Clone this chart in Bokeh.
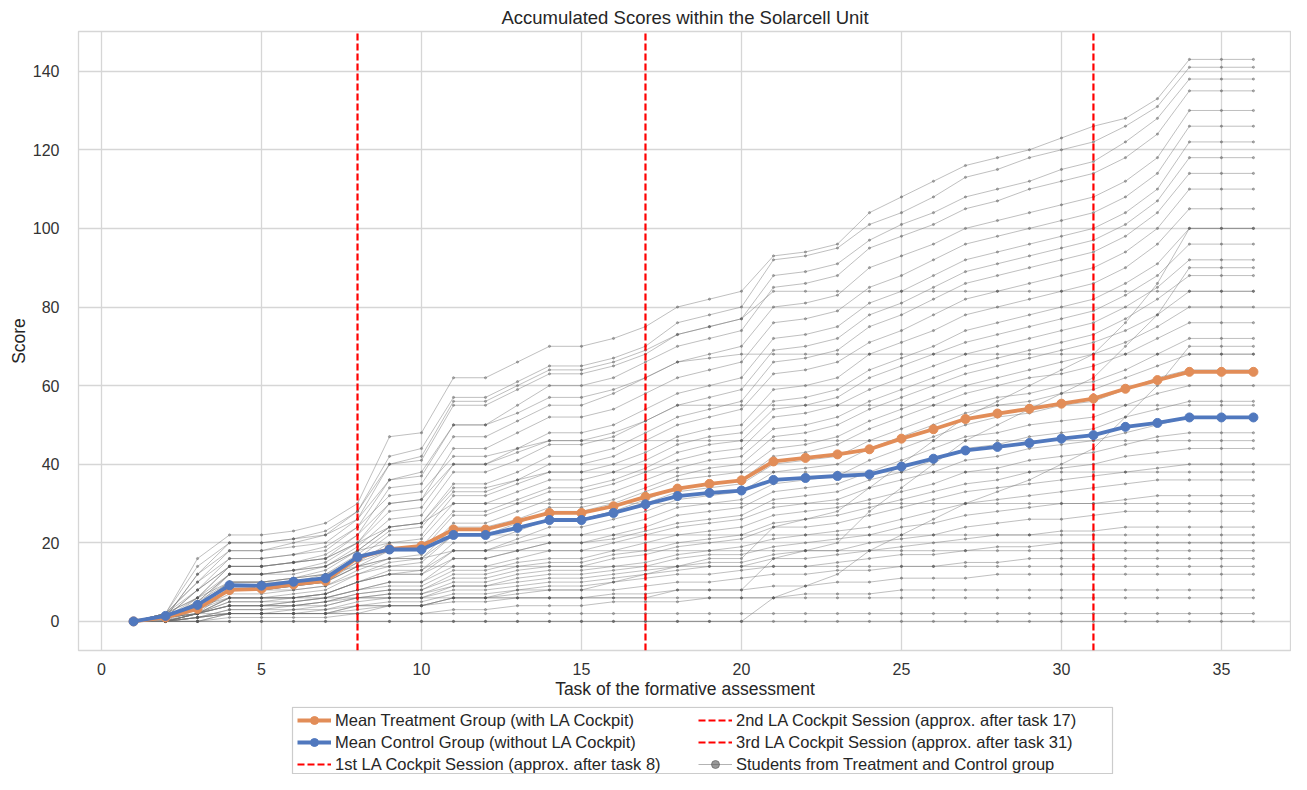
from bokeh.plotting import figure
from bokeh.models import Legend, LegendItem, FixedTicker, Range1d
from bokeh.layouts import column
from bokeh.embed import file_html
from bokeh.resources import INLINE

TASKS = list(range(1, 37))
X_TICKS = [0, 5, 10, 15, 20, 25, 30, 35]
Y_TICKS = [0, 20, 40, 60, 80, 100, 120, 140]
SESSIONS = [8, 17, 31]
SESSION_LABELS = ["1st LA Cockpit Session (approx. after task 8)",
                  "2nd LA Cockpit Session (approx. after task 17)",
                  "3rd LA Cockpit Session (approx. after task 31)"]
LABEL_TREATMENT = "Mean Treatment Group (with LA Cockpit)"
LABEL_CONTROL = "Mean Control Group (without LA Cockpit)"
LABEL_STUDENTS = "Students from Treatment and Control group"

MEAN_TREATMENT = [0, 1.0, 3.2, 8.0, 8.3, 9.4, 10.3, 16.2, 18.4, 19.2, 23.4, 23.4,
                  25.5, 27.6, 27.6, 29.3, 31.7, 33.8, 35.0, 35.9, 40.7, 41.6, 42.5, 43.8,
                  46.5, 48.9, 51.5, 52.9, 54.1, 55.4, 56.7, 59.2, 61.4, 63.5, 63.5, 63.5]
MEAN_CONTROL = [0, 1.4, 4.2, 9.2, 9.1, 10.1, 11.0, 16.4, 18.3, 18.3, 22.0, 22.0,
                23.8, 25.8, 25.8, 27.6, 29.8, 31.9, 32.7, 33.3, 36.0, 36.5, 37.0, 37.4,
                39.4, 41.4, 43.5, 44.4, 45.4, 46.5, 47.4, 49.5, 50.5, 51.9, 51.9, 51.9]

STUDENT_SCORES = [
    [0, 2, 16, 22, 22, 23, 25, 30, 47, 48, 62, 62, 66, 70, 70, 72, 75, 80, 82, 84, 93, 94, 96, 104, 108, 112, 116, 118, 120, 123, 126, 128, 133, 143, 143, 143],
    [0, 1, 12, 20, 20, 21, 23, 28, 42, 44, 57, 57, 61, 65, 65, 67, 70, 76, 78, 80, 92, 93, 95, 101, 104, 108, 113, 115, 118, 120, 122, 126, 131, 141, 141, 141],
    [0, 2, 10, 18, 18, 20, 22, 26, 40, 41, 55, 55, 59, 63, 63, 65, 68, 73, 75, 77, 88, 89, 91, 97, 101, 104, 108, 110, 112, 115, 117, 122, 128, 138, 138, 138],
    [0, 1, 8, 16, 16, 17, 19, 24, 36, 37, 50, 50, 55, 60, 60, 62, 66, 70, 72, 74, 85, 86, 88, 95, 98, 101, 105, 107, 110, 112, 114, 118, 124, 135, 135, 135],
    [0, 0, 6, 14, 14, 15, 17, 22, 34, 35, 47, 47, 51, 55, 55, 58, 62, 66, 68, 70, 80, 81, 83, 90, 93, 96, 100, 102, 104, 106, 108, 112, 118, 130, 130, 130],
    [0, 2, 6, 14, 14, 15, 16, 20, 30, 31, 44, 44, 48, 52, 52, 54, 58, 62, 64, 66, 76, 77, 79, 85, 88, 92, 96, 98, 100, 102, 104, 108, 114, 126, 126, 126],
    [0, 1, 5, 12, 12, 13, 15, 20, 28, 29, 40, 40, 44, 48, 48, 50, 54, 58, 60, 62, 72, 73, 75, 81, 84, 88, 92, 94, 96, 98, 100, 104, 110, 122, 122, 122],
    [0, 1, 4, 12, 12, 12, 14, 19, 26, 27, 38, 38, 41, 45, 45, 47, 51, 55, 57, 59, 69, 70, 72, 78, 81, 85, 89, 91, 93, 95, 97, 101, 107, 118, 118, 118],
    [0, 0, 4, 10, 10, 11, 13, 18, 24, 25, 35, 35, 38, 42, 42, 44, 48, 52, 54, 56, 66, 67, 69, 75, 78, 82, 86, 88, 90, 92, 94, 98, 104, 114, 114, 114],
    [0, 1, 5, 10, 10, 11, 12, 17, 23, 24, 33, 33, 36, 40, 40, 42, 46, 50, 52, 54, 63, 64, 66, 71, 74, 78, 82, 84, 86, 88, 90, 94, 100, 110, 110, 110],
    [0, 1, 4, 10, 10, 10, 12, 16, 22, 22, 32, 32, 35, 38, 38, 40, 43, 47, 49, 50, 59, 60, 62, 68, 71, 74, 78, 80, 82, 84, 86, 90, 96, 105, 105, 105],
    [0, 0, 3, 8, 8, 9, 10, 15, 20, 21, 30, 30, 33, 36, 36, 38, 41, 45, 47, 48, 56, 57, 59, 64, 67, 70, 74, 76, 78, 80, 82, 86, 91, 100, 100, 100],
    [0, 1, 3, 8, 8, 9, 10, 14, 18, 19, 28, 28, 31, 34, 34, 36, 39, 43, 45, 46, 54, 55, 57, 62, 65, 68, 71, 73, 75, 77, 79, 83, 88, 96, 96, 96],
    [0, 1, 4, 9, 9, 10, 11, 15, 18, 18, 27, 27, 30, 33, 33, 35, 38, 41, 43, 44, 52, 53, 55, 59, 62, 65, 68, 70, 72, 74, 76, 80, 85, 92, 92, 92],
    [0, 0, 2, 8, 8, 8, 9, 13, 16, 17, 25, 25, 28, 31, 31, 33, 36, 39, 41, 42, 49, 50, 52, 56, 59, 62, 65, 67, 69, 71, 73, 77, 82, 88, 88, 88],
    [0, 1, 3, 7, 7, 8, 9, 12, 15, 16, 24, 24, 26, 29, 29, 31, 34, 37, 39, 40, 47, 48, 50, 54, 57, 60, 63, 65, 67, 69, 71, 74, 78, 84, 84, 84],
    [0, 1, 2, 6, 6, 7, 8, 12, 14, 15, 22, 22, 25, 28, 28, 30, 33, 36, 37, 38, 44, 45, 47, 51, 54, 57, 60, 62, 64, 66, 68, 71, 75, 80, 80, 80],
    [0, 0, 2, 6, 6, 6, 7, 10, 13, 13, 20, 20, 23, 26, 26, 28, 31, 34, 35, 36, 42, 43, 45, 49, 52, 55, 58, 60, 62, 63, 65, 68, 72, 76, 76, 76],
    [0, 1, 3, 8, 8, 9, 10, 14, 16, 16, 22, 22, 24, 26, 26, 28, 30, 33, 34, 35, 40, 41, 42, 46, 49, 52, 55, 57, 58, 60, 61, 64, 68, 72, 72, 72],
    [0, 0, 2, 6, 6, 6, 7, 10, 12, 12, 18, 18, 21, 24, 24, 26, 28, 31, 32, 33, 38, 39, 40, 44, 47, 50, 53, 55, 56, 58, 59, 62, 65, 68, 68, 68],
    [0, 1, 2, 5, 5, 6, 7, 10, 12, 13, 18, 18, 20, 22, 22, 24, 26, 29, 30, 31, 35, 36, 37, 41, 44, 47, 50, 52, 53, 55, 56, 59, 62, 64, 64, 64],
    [0, 0, 2, 4, 4, 5, 6, 8, 10, 10, 16, 16, 18, 20, 20, 22, 24, 27, 28, 29, 33, 34, 35, 38, 41, 44, 47, 48, 50, 51, 52, 55, 58, 60, 60, 60],
    [0, 1, 3, 6, 6, 6, 7, 10, 12, 12, 16, 16, 18, 20, 20, 21, 23, 25, 26, 27, 31, 32, 33, 36, 38, 41, 44, 45, 47, 48, 49, 52, 54, 56, 56, 56],
    [0, 0, 2, 4, 4, 5, 6, 8, 10, 10, 14, 14, 16, 18, 18, 20, 22, 24, 25, 26, 29, 30, 31, 34, 36, 38, 41, 42, 44, 45, 46, 48, 50, 52, 52, 52],
    [0, 1, 2, 5, 5, 5, 6, 8, 9, 9, 13, 13, 15, 16, 16, 18, 20, 22, 23, 24, 27, 28, 29, 31, 33, 35, 38, 39, 41, 42, 43, 45, 47, 48, 48, 48],
    [0, 0, 2, 4, 4, 4, 5, 7, 8, 8, 12, 12, 14, 15, 15, 17, 18, 20, 21, 22, 25, 26, 27, 29, 31, 33, 35, 36, 38, 39, 40, 42, 43, 44, 44, 44],
    [0, 0, 1, 3, 3, 4, 5, 7, 8, 8, 11, 11, 13, 14, 14, 16, 17, 19, 20, 21, 24, 24, 25, 27, 29, 31, 33, 34, 35, 36, 37, 38, 39, 40, 40, 40],
    [0, 1, 2, 4, 4, 4, 5, 6, 7, 7, 10, 10, 12, 13, 13, 14, 15, 17, 18, 19, 21, 22, 23, 24, 26, 28, 30, 31, 32, 33, 34, 35, 36, 36, 36, 36],
    [0, 0, 1, 3, 3, 3, 4, 6, 7, 7, 9, 9, 11, 12, 12, 13, 14, 16, 17, 17, 19, 20, 21, 22, 24, 25, 27, 28, 29, 30, 30, 31, 32, 32, 32, 32],
    [0, 0, 2, 4, 4, 4, 4, 6, 6, 6, 9, 9, 10, 11, 11, 12, 13, 14, 15, 15, 17, 18, 18, 20, 21, 22, 24, 25, 26, 26, 27, 28, 28, 28, 28, 28],
    [0, 0, 1, 2, 2, 3, 3, 5, 6, 6, 8, 8, 9, 10, 10, 11, 12, 13, 14, 14, 16, 16, 17, 18, 19, 20, 21, 22, 22, 23, 23, 24, 24, 24, 24, 24],
    [0, 0, 1, 2, 2, 2, 3, 4, 5, 5, 7, 7, 8, 9, 9, 10, 11, 12, 12, 13, 14, 14, 15, 16, 17, 17, 18, 19, 19, 20, 20, 20, 20, 20, 20, 20],
    [0, 0, 0, 2, 2, 2, 2, 4, 4, 4, 6, 6, 7, 8, 8, 8, 9, 10, 10, 11, 12, 12, 13, 13, 14, 14, 15, 15, 16, 16, 16, 16, 16, 16, 16, 16],
    [0, 0, 1, 2, 2, 2, 2, 3, 4, 4, 5, 5, 6, 6, 6, 7, 7, 8, 8, 8, 9, 9, 10, 10, 11, 11, 11, 12, 12, 12, 12, 12, 12, 12, 12, 12],
    [0, 0, 0, 1, 1, 1, 1, 2, 2, 2, 3, 3, 4, 4, 4, 5, 5, 5, 6, 6, 6, 7, 7, 7, 8, 8, 8, 8, 8, 8, 8, 8, 8, 8, 8, 8],
    [0, 0, 0, 0, 0, 0, 0, 0, 0, 0, 0, 0, 0, 0, 0, 0, 0, 0, 0, 0, 0, 0, 0, 0, 0, 0, 0, 0, 0, 0, 0, 0, 0, 0, 0, 0],
    [0, 1, 4, 6, 6, 6, 6, 6, 6, 6, 6, 6, 6, 6, 6, 6, 6, 6, 6, 6, 6, 6, 6, 6, 6, 6, 6, 6, 6, 6, 6, 6, 6, 6, 6, 6],
    [0, 2, 6, 10, 10, 11, 12, 14, 14, 14, 14, 14, 14, 14, 14, 14, 14, 14, 14, 14, 14, 14, 14, 14, 14, 14, 14, 14, 14, 14, 14, 14, 14, 14, 14, 14],
    [0, 1, 5, 12, 12, 13, 14, 18, 20, 20, 22, 22, 22, 22, 22, 22, 22, 22, 22, 22, 22, 22, 22, 22, 22, 22, 22, 22, 22, 22, 22, 22, 22, 22, 22, 22],
    [0, 2, 8, 14, 14, 15, 16, 20, 24, 25, 30, 30, 30, 30, 30, 30, 30, 30, 30, 30, 30, 30, 30, 30, 30, 30, 30, 30, 30, 30, 30, 30, 30, 30, 30, 30],
    [0, 1, 6, 12, 12, 13, 14, 18, 24, 25, 34, 34, 36, 38, 38, 38, 38, 38, 38, 38, 38, 38, 38, 38, 38, 38, 38, 38, 38, 38, 38, 38, 38, 38, 38, 38],
    [0, 2, 10, 16, 16, 17, 18, 24, 32, 33, 42, 42, 44, 46, 46, 46, 46, 46, 46, 46, 46, 46, 46, 46, 46, 46, 46, 46, 46, 46, 46, 46, 46, 46, 46, 46],
    [0, 1, 8, 14, 14, 15, 16, 22, 30, 31, 40, 40, 43, 46, 46, 48, 51, 55, 55, 55, 55, 55, 55, 55, 55, 55, 55, 55, 55, 55, 55, 55, 55, 55, 55, 55],
    [0, 1, 12, 18, 18, 19, 20, 26, 36, 38, 50, 50, 53, 57, 57, 59, 62, 66, 67, 68, 68, 68, 68, 68, 68, 68, 68, 68, 68, 68, 68, 68, 68, 68, 68, 68],
    [0, 2, 14, 20, 20, 21, 22, 28, 40, 42, 56, 56, 60, 64, 64, 66, 69, 73, 75, 77, 84, 84, 84, 84, 84, 84, 84, 84, 84, 84, 84, 84, 84, 84, 84, 84],
    [0, 0, 0, 0, 0, 0, 0, 0, 0, 0, 0, 0, 0, 0, 0, 0, 0, 0, 0, 0, 6, 9, 12, 18, 22, 26, 30, 33, 36, 40, 44, 52, 60, 70, 70, 70],
    [0, 0, 1, 2, 2, 2, 2, 4, 4, 4, 6, 6, 6, 6, 6, 6, 6, 8, 8, 8, 16, 18, 20, 28, 34, 40, 46, 50, 54, 58, 62, 70, 78, 90, 90, 90],
    [0, 0, 0, 2, 2, 2, 2, 2, 4, 4, 6, 6, 8, 8, 8, 10, 12, 14, 16, 16, 24, 26, 28, 34, 40, 46, 52, 56, 60, 64, 68, 76, 86, 100, 100, 100],
    [0, 0, 2, 2, 2, 2, 2, 2, 2, 2, 2, 2, 2, 2, 2, 2, 2, 2, 2, 2, 2, 2, 2, 2, 2, 2, 2, 2, 2, 2, 2, 2, 2, 2, 2, 2],
    [0, 1, 4, 8, 8, 9, 10, 14, 16, 16, 18, 18, 18, 18, 18, 18, 18, 18, 18, 18, 18, 18, 18, 18, 18, 18, 18, 18, 18, 18, 18, 18, 18, 18, 18, 18],
]

X_START, X_END = -0.72, 37.19
Y_START, Y_END = -7.4, 150.1

FONT = "Liberation Sans"
T_COLOR = "#E28D58"
C_COLOR = "#5078BE"
RED = "#ff0000"
FIG_W = 1291
MAIN_H = 706
LEG_H = 68
FRAME_LEFT = 78
NAN = float("nan")

p = figure(width=FIG_W, height=MAIN_H,
           x_range=Range1d(X_START, X_END), y_range=Range1d(Y_START, Y_END),
           output_backend="svg", toolbar_location=None,
           min_border_left=FRAME_LEFT, min_border_right=0, min_border_top=0, min_border_bottom=56,
           background_fill_color="white", border_fill_color="white")

p.title.text = "Accumulated Scores within the Solarcell Unit"
p.title.align = "center"
p.title.text_font = FONT
p.title.text_font_size = "18.5px"
p.title.text_font_style = "normal"
p.title.text_color = "#262626"
p.title.standoff = 8

p.xaxis.ticker = FixedTicker(ticks=X_TICKS)
p.yaxis.ticker = FixedTicker(ticks=Y_TICKS)
for ax in (p.xaxis[0], p.yaxis[0]):
    ax.axis_line_color = None
    ax.major_tick_line_color = None
    ax.minor_tick_line_color = None
    ax.major_label_text_font = FONT
    ax.major_label_text_font_size = "16px"
    ax.major_label_text_color = "#333333"
    ax.axis_label_text_font = FONT
    ax.axis_label_text_font_size = "17.5px"
    ax.axis_label_text_font_style = "normal"
    ax.axis_label_text_color = "#262626"
p.xaxis.axis_label = "Task of the formative assessment"
p.yaxis.axis_label = "Score"
p.xaxis.major_label_standoff = 6
p.yaxis.major_label_standoff = 13
p.xaxis.axis_label_standoff = 1
p.yaxis.axis_label_standoff = 1

p.grid.grid_line_color = "#d6d6d6"
p.grid.grid_line_width = 1.3
p.outline_line_color = "#d6d6d6"
p.outline_line_width = 1.3

# students
p.multi_line(xs=[TASKS] * len(STUDENT_SCORES), ys=STUDENT_SCORES,
             line_color="#707070", line_alpha=0.45, line_width=1)
flat_x = [t for s in STUDENT_SCORES for t in TASKS]
flat_y = [v for s in STUDENT_SCORES for v in s]
p.scatter(flat_x, flat_y, size=2.2, color="#555555", alpha=0.4)

# session lines
for s in SESSIONS:
    p.line([s, s], [Y_START, Y_END], line_color=RED, line_width=2.2, line_dash="7 3")

# means
p.line(TASKS, MEAN_TREATMENT, line_color=T_COLOR, line_width=3.8)
p.scatter(TASKS, MEAN_TREATMENT, size=9, color=T_COLOR)
p.line(TASKS, MEAN_CONTROL, line_color=C_COLOR, line_width=3.8)
p.scatter(TASKS, MEAN_CONTROL, size=9, color=C_COLOR)

# ---- legend strip (separate figure beneath the plot; its frame is aligned with the plot frame) ----
q = figure(width=FIG_W, height=LEG_H, x_range=Range1d(FRAME_LEFT, FIG_W), y_range=Range1d(0, LEG_H),
           output_backend="svg", toolbar_location=None, x_axis_type=None, y_axis_type=None,
           min_border_left=FRAME_LEFT, min_border_right=0, min_border_top=0,
           min_border_bottom=0, outline_line_color=None,
           background_fill_color="white", border_fill_color="white")
q.grid.visible = False

# legend box
q.quad(left=[292], right=[1112], bottom=[0.8], top=[LEG_H - 0.8],
       fill_color="white", line_color="#cccccc", line_width=1.2)

lt_line = q.line(x=[NAN], y=[NAN], line_color=T_COLOR, line_width=3.8)
lt_pts = q.scatter(x=[NAN], y=[NAN], size=9, color=T_COLOR)
lc_line = q.line(x=[NAN], y=[NAN], line_color=C_COLOR, line_width=3.8)
lc_pts = q.scatter(x=[NAN], y=[NAN], size=9, color=C_COLOR)
ls = [q.line(x=[NAN], y=[NAN], line_color=RED, line_width=2.2, line_dash="7 3") for _ in SESSIONS]
lst_line = q.line(x=[NAN], y=[NAN], line_color="gray", line_alpha=0.6, line_width=1)
lst_pts = q.scatter(x=[NAN], y=[NAN], size=2.6, color="#555555", alpha=0.6)

common = dict(label_text_font=FONT, label_text_font_size="16.5px",
              label_text_color="#262626", label_height=20, glyph_height=20,
              glyph_width=34, label_standoff=4, spacing=2, padding=2, margin=0,
              border_line_color=None, background_fill_alpha=0)

leg1 = Legend(items=[
    LegendItem(label=LABEL_TREATMENT, renderers=[lt_line, lt_pts]),
    LegendItem(label=LABEL_CONTROL, renderers=[lc_line, lc_pts]),
    LegendItem(label=SESSION_LABELS[0], renderers=[ls[0]]),
], location=(297 - FRAME_LEFT, 0), **common)
leg2 = Legend(items=[
    LegendItem(label=SESSION_LABELS[1], renderers=[ls[1]]),
    LegendItem(label=SESSION_LABELS[2], renderers=[ls[2]]),
    LegendItem(label=LABEL_STUDENTS, renderers=[lst_line, lst_pts]),
], location=(698 - FRAME_LEFT, 0), **common)
q.add_layout(leg1, "center")
q.add_layout(leg2, "center")

layout = column(p, q, spacing=0)
open("out.html", "w").write(file_html(layout, INLINE))
